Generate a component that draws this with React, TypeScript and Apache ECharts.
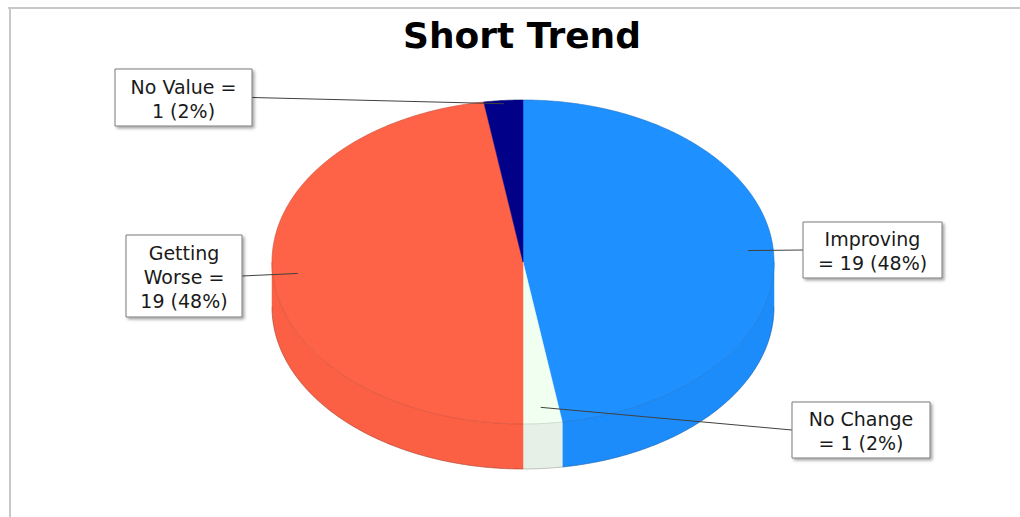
import React, { useEffect, useRef } from "react";
import * as echarts from "echarts";

// ---- data ----
const categories = ["Improving", "No Change", "Getting Worse", "No Value"];
const values = [19, 1, 19, 1];
const percents = [48, 2, 48, 2];
const colors = ["#1E90FF", "#F0FFF0", "#FF6347", "#000088"];
const sideColors = ["#1D8CFB", "#E6F0E6", "#FB6045", "#00007E"];
const titleText = "Short Trend";

// label text layout per slice (line breaks only)
function labelText(i: number): string {
  const name = categories[i];
  const tail = `${values[i]} (${percents[i]}%)`;
  if (i === 2) {
    const parts = name.split(" ");
    return `${parts[0]}\n${parts[1]} =\n${tail}`;
  }
  if (i === 3) return `${name} =\n${tail}`;
  return `${name}\n= ${tail}`;
}

// geometry
const CX = 523;
const CY = 262;
const RX = 251;
const RY = 162;
const DEPTH = 45;

const boxes = [
  { x: 803, y: 222, w: 139, h: 56, side: "left", f: 0.9 },
  { x: 792, y: 402, w: 138, h: 56, side: "left", f: 0.9 },
  { x: 126, y: 235, w: 116, h: 82, side: "right", f: 0.9 },
  { x: 115, y: 69, w: 137, h: 57, side: "right", f: 0.98 },
];

const total = values.reduce((a, b) => a + b, 0);
const starts: number[] = [];
{
  let acc = 0;
  for (const v of values) {
    starts.push((acc / total) * Math.PI * 2);
    acc += v;
  }
}

function pt(t: number, dy = 0, f = 1): number[] {
  return [CX + f * RX * Math.sin(t), CY - f * RY * Math.cos(t) + dy];
}
function arc(a1: number, a2: number, dy = 0): number[][] {
  const n = Math.max(2, Math.ceil((a2 - a1) / (Math.PI / 360)) + 1);
  const out: number[][] = [];
  for (let k = 0; k < n; k++) out.push(pt(a1 + ((a2 - a1) * k) / (n - 1), dy));
  return out;
}

export default function App() {
  const ref = useRef<HTMLDivElement>(null);
  useEffect(() => {
    if (!ref.current) return;
    const chart = echarts.init(ref.current, null, { renderer: "svg" });
    const font = "DejaVu Sans";
    chart.setOption({
      animation: false,
      backgroundColor: "#ffffff",
      title: {
        text: titleText,
        left: 517,
        top: 12,
        textAlign: "center",
        textStyle: { fontSize: 36, fontWeight: "bold", fontFamily: font, color: "#000" },
      },
      graphic: [
        { type: "line", shape: { x1: 8, y1: 8, x2: 1020, y2: 8 }, style: { stroke: "#c8c8c8", lineWidth: 2 } },
        { type: "line", shape: { x1: 10, y1: 8, x2: 10, y2: 517 }, style: { stroke: "#c8c8c8", lineWidth: 2 } },
      ],
      series: [
        {
          type: "custom",
          coordinateSystem: "none",
          data: values.map((v, i) => ({ value: [v, i], name: categories[i] })),
          renderItem: (params: any, api: any) => {
            const i = params.dataIndex;
            const v = api.value(0);
            const a1 = starts[i];
            const a2 = a1 + (v / total) * Math.PI * 2;
            const children: any[] = [];
            // side wall (front half only)
            const s = Math.max(a1, Math.PI / 2);
            const e = Math.min(a2, (Math.PI * 3) / 2);
            if (e > s) {
              const topA = arc(s, e, 0);
              const botA = arc(s, e, DEPTH).reverse();
              children.push({
                type: "polygon",
                z2: 1,
                shape: { points: topA.concat(botA) },
                style: { fill: sideColors[i], stroke: sideColors[i], lineWidth: 0.5 },
              });
              children.push({
                type: "polyline",
                z2: 2,
                shape: { points: arc(s, e, DEPTH) },
                style: { stroke: "rgba(0,0,0,0.2)", lineWidth: 1, fill: null },
              });
            }
            // top face
            children.push({
              type: "polygon",
              z2: 3,
              shape: { points: [[CX, CY]].concat(arc(a1, a2, 0)) },
              style: { fill: colors[i], stroke: colors[i], lineWidth: 0.5 },
            });
            children.push({
              type: "polyline",
              z2: 4,
              shape: { points: arc(a1, a2, 0) },
              style: { stroke: "rgba(0,0,0,0.13)", lineWidth: 1, fill: null },
            });
            // leader line + label
            const b = boxes[i];
            const mid = (a1 + a2) / 2;
            const anchor = pt(mid, 0, b.f);
            const bx = b.side === "left" ? b.x : b.x + b.w;
            const by = b.y + b.h / 2;
            children.push({
              type: "line",
              z2: 10,
              shape: { x1: anchor[0], y1: anchor[1], x2: bx, y2: by },
              style: { stroke: "#404040", lineWidth: 1 },
            });
            children.push({
              type: "rect",
              z2: 11,
              shape: { x: b.x, y: b.y, width: b.w, height: b.h },
              style: {
                fill: "#ffffff",
                stroke: "#7a7a7a",
                lineWidth: 1,
                shadowBlur: 3,
                shadowOffsetX: 2,
                shadowOffsetY: 2,
                shadowColor: "rgba(0,0,0,0.35)",
              },
            });
            children.push({
              type: "text",
              z2: 12,
              x: b.x + b.w / 2,
              y: b.y + b.h / 2 + 1,
              style: {
                text: labelText(i),
                fontFamily: font,
                fontSize: 19,
                lineHeight: 24,
                fill: "#1a1a1a",
                align: "center",
                verticalAlign: "middle",
              },
            });
            return { type: "group", children };
          },
        },
      ],
    });
    return () => chart.dispose();
  }, []);
  return (
    <div
      ref={ref}
      style={{ position: "fixed", left: 0, top: 0, width: 1020, height: 517 }}
    />
  );
}
